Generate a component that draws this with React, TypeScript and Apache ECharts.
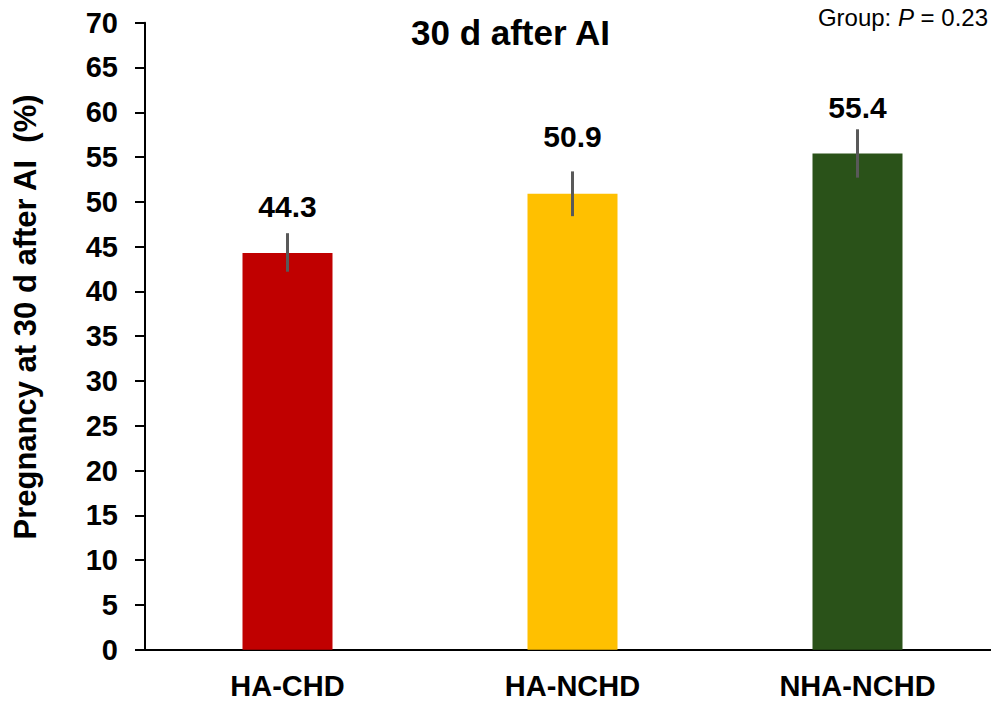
import React, { useEffect, useRef } from "react";
import * as echarts from "echarts";

const categories = ["HA-CHD", "HA-NCHD", "NHA-NCHD"];
const pregnancyRate = [44.3, 50.9, 55.4];
const errorLow = [42.2, 48.4, 52.7];
const errorHigh = [46.5, 53.4, 58.1];
const barColors = ["#C00000", "#FFC000", "#2A5219"];
const labelLift = [27, 35, 22];
const yTicks = { min: 0, max: 70, interval: 5 };
const yAxisTitle = "Pregnancy at 30 d after AI  (%)";

const FONT = "'Liberation Sans', Arial, sans-serif";

export default function App() {
  const ref = useRef<HTMLDivElement>(null);
  useEffect(() => {
    document.body.style.margin = "0";
    document.body.style.overflow = "hidden";
    const chart = echarts.init(ref.current!, null, { renderer: "svg" });
    const errData = categories.map((c, i) => [i, errorLow[i], errorHigh[i], pregnancyRate[i]]);
    chart.setOption({
      animation: false,
      backgroundColor: "#ffffff",
      textStyle: { fontFamily: FONT },
      grid: { left: 145, right: 0, top: 22.7, bottom: 51.3, containLabel: false },
      graphic: [
        {
          type: "text",
          x: 510.5,
          y: 32,
          style: {
            text: "30 d after AI",
            fontFamily: FONT,
            fontSize: 35,
            fontWeight: "bold",
            fill: "#000",
            align: "center",
            verticalAlign: "middle",
          },
        },
        {
          type: "text",
          x: 988,
          y: 17,
          style: {
            text: "{n|Group: }{i|P}{n| = 0.23}",
            align: "right",
            verticalAlign: "middle",
            rich: {
              n: { fontFamily: FONT, fontSize: 24, fill: "#000", color: "#000" },
              i: { fontFamily: FONT, fontSize: 24, fontStyle: "italic", fill: "#000", color: "#000" },
            },
          },
        },
        {
          type: "text",
          x: 25,
          y: 317,
          rotation: Math.PI / 2,
          style: {
            text: yAxisTitle,
            fontFamily: FONT,
            fontSize: 31,
            fontWeight: "bold",
            fill: "#000",
            align: "center",
            verticalAlign: "middle",
          },
        },
      ],
      xAxis: {
        type: "category",
        data: categories,
        axisLine: { lineStyle: { color: "#000", width: 2 } },
        axisTick: { show: false },
        axisLabel: {
          color: "#000",
          fontFamily: FONT,
          fontSize: 29,
          fontWeight: "bold",
          margin: 22,
        },
      },
      yAxis: {
        type: "value",
        min: yTicks.min,
        max: yTicks.max,
        interval: yTicks.interval,
        axisLine: { show: true, lineStyle: { color: "#000", width: 2 } },
        axisTick: { show: true, inside: false, length: 10, lineStyle: { color: "#000", width: 2 } },
        splitLine: { show: false },
        axisLabel: {
          color: "#000",
          fontFamily: FONT,
          fontSize: 29,
          fontWeight: "bold",
          margin: 27,
        },
      },
      series: [
        {
          type: "bar",
          barWidth: 90,
          data: pregnancyRate.map((v, i) => ({ value: v, itemStyle: { color: barColors[i] } })),
          z: 2,
        },
        {
          type: "custom",
          data: errData,
          z: 3,
          renderItem: (params: any, api: any) => {
            const i = api.value(0);
            const lo = api.coord([i, api.value(1)]);
            const hi = api.coord([i, api.value(2)]);
            const idx = params.dataIndex;
            return {
              type: "group",
              children: [
                {
                  type: "line",
                  shape: { x1: hi[0], y1: lo[1], x2: hi[0], y2: hi[1] },
                  style: { stroke: "#595959", lineWidth: 3 },
                },
                {
                  type: "text",
                  x: hi[0],
                  y: hi[1] - labelLift[idx],
                  style: {
                    text: api.value(3).toFixed(1),
                    fontFamily: FONT,
                    fontSize: 30,
                    fontWeight: "bold",
                    fill: "#000",
                    align: "center",
                    verticalAlign: "middle",
                  },
                },
              ],
            };
          },
        },
      ],
    });
    return () => chart.dispose();
  }, []);
  return <div ref={ref} style={{ width: 1000, height: 701 }} />;
}
